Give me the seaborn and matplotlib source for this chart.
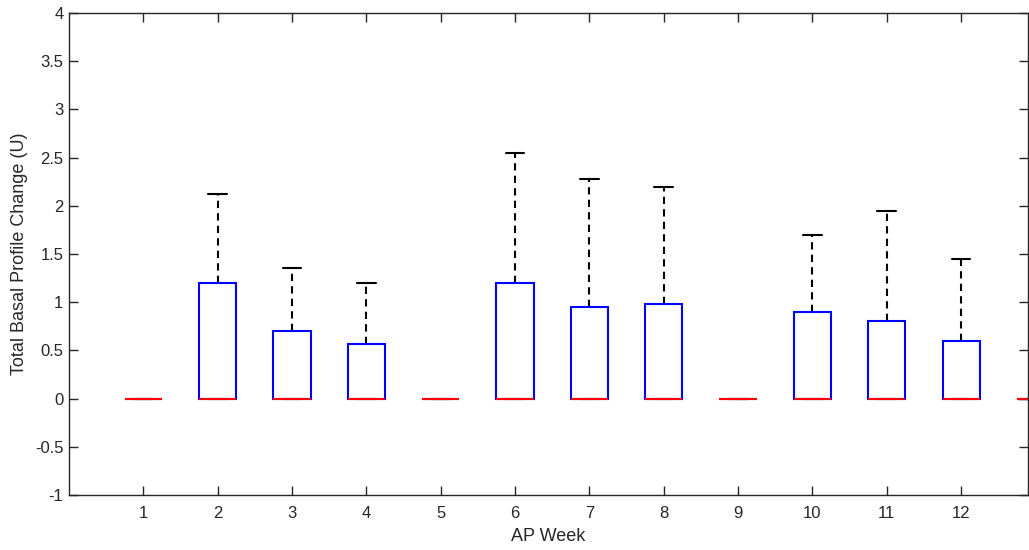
import numpy as np
import pandas as pd
import matplotlib
matplotlib.use("Agg")
import matplotlib.pyplot as plt
import seaborn as sns

# Data (per AP week): median = Q1 = 0
weeks = [1, 2, 3, 4, 5, 6, 7, 8, 9, 10, 11, 12, 13]
q3_values = [0, 1.20, 0.70, 0.57, 0, 1.20, 0.95, 0.98, 0, 0.90, 0.80, 0.60, 0]
upper_whisker = [0, 2.12, 1.35, 1.20, 0, 2.55, 2.28, 2.20, 0, 1.70, 1.95, 1.45, 0]
yticks = [-1, -0.5, 0, 0.5, 1, 1.5, 2, 2.5, 3, 3.5, 4]

# Build a minimal sample per week reproducing the box statistics
rows = []
for w, q3, hi in zip(weeks, q3_values, upper_whisker):
    for v in [0.0, 0.0, 0.0, q3, hi]:
        rows.append({"week": w, "value": v})
df = pd.DataFrame(rows)

sns.set_theme(style="white")
plt.rcParams["font.family"] = ["Liberation Sans", "DejaVu Sans"]

fig = plt.figure(figsize=(10.29, 5.5), dpi=100)
ax = fig.add_axes([69 / 1029, 55 / 550, (1028 - 69) / 1029, (495 - 13) / 550])

sns.boxplot(
    data=df, x="week", y="value", native_scale=True, width=0.5,
    whis=1.5, fliersize=0, ax=ax,
    boxprops=dict(facecolor="none", edgecolor="#0000ff", linewidth=1.5, zorder=3),
    medianprops=dict(color="#ff0000", linewidth=1.5, zorder=5),
    whiskerprops=dict(color="black", linestyle=(0, (3.5, 2.5)), linewidth=1.5, zorder=2),
    capprops=dict(color="black", linewidth=1.5, zorder=2),
)

ax.set_xlim(0, 12.9)
ax.set_ylim(-1, 4)
ax.set_xticks(weeks[:12])
ax.set_xticklabels([str(w) for w in weeks[:12]])
ax.set_yticks(yticks)
ax.set_yticklabels(["-1", "-0.5", "0", "0.5", "1", "1.5", "2", "2.5", "3", "3.5", "4"])

for s in ax.spines.values():
    s.set_visible(True)
    s.set_color("#262626")
    s.set_linewidth(1.0)

ax.tick_params(axis="both", which="both", direction="in", length=6.5, width=1.0,
               color="#262626", labelsize=12, labelcolor="#262626",
               top=True, right=True, bottom=True, left=True)
ax.tick_params(axis="x", pad=8)
ax.tick_params(axis="y", pad=4)

ax.set_xlabel("AP Week", fontsize=13, color="#262626", labelpad=5)
ax.set_ylabel("Total Basal Profile Change (U)", fontsize=13, color="#262626", labelpad=5)
ax.grid(False)

fig.savefig("out.png", dpi=100)
